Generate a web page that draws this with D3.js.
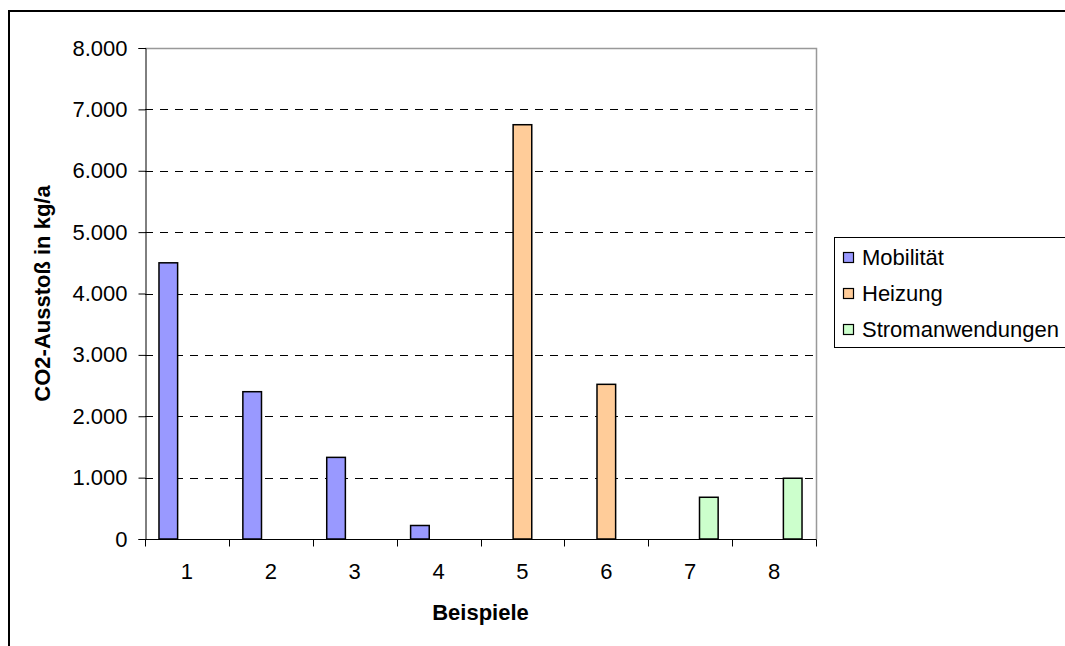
<!DOCTYPE html>
<html>
<head>
<meta charset="utf-8">
<script src="https://cdn.jsdelivr.net/npm/d3@7"></script>
<style>
  html, body { margin: 0; padding: 0; background: #fff; }
  svg { display: block; font-family: "Liberation Sans", Arial, sans-serif; }
</style>
</head>
<body>
<svg id="chart" width="1065" height="646"></svg>
<script>
// Beispiele (categories) and CO2 emissions per example, kg per year
const categories = ["1", "2", "3", "4", "5", "6", "7", "8"];
const seriesNames = ["Mobilität", "Heizung", "Stromanwendungen"];
const mobilitaet = [4500, 2400, 1330, 220, 0, 0, 0, 0];
const heizung = [0, 0, 0, 0, 6750, 2520, 0, 0];
const stromanwendungen = [0, 0, 0, 0, 0, 0, 680, 990];
const yTicks = [0, 1000, 2000, 3000, 4000, 5000, 6000, 7000, 8000];
const colors = ["#9999FF", "#FFCC99", "#CCFFCC"];

const seriesValues = [mobilitaet, heizung, stromanwendungen];

const svg = d3.select("#chart");
const plot = { left: 145, right: 816, top: 48, bottom: 539 };

// German number format: 8.000
const de = d3.formatLocale({ decimal: ",", thousands: ".", grouping: [3], currency: ["", " €"] });
const fmt = de.format(",");

const x0 = d3.scaleBand().domain(categories).range([plot.left, plot.right]).paddingInner(0).paddingOuter(0);
const x1 = d3.scaleBand().domain(seriesNames).range([0, x0.bandwidth()]).paddingInner(0).paddingOuter(0.75);
const y = d3.scaleLinear().domain([0, 8000]).range([plot.bottom, plot.top]);

// Outer chart frame
svg.append("rect")
  .attr("x", 9).attr("y", 11)
  .attr("width", 1065).attr("height", 646)
  .attr("fill", "none").attr("stroke", "#000").attr("stroke-width", 2);

// Dashed horizontal gridlines
svg.append("g")
  .selectAll("line")
  .data(yTicks.filter(v => v > 0 && v < 8000))
  .join("line")
  .attr("x1", plot.left).attr("x2", plot.right)
  .attr("y1", d => Math.round(y(d)) + 0.5).attr("y2", d => Math.round(y(d)) + 0.5)
  .attr("stroke", "#000").attr("stroke-width", 1)
  .attr("stroke-dasharray", "8,7");

// Plot area top and right border
svg.append("path")
  .attr("d", `M${plot.left},${plot.top + 0.5}H${plot.right + 0.5}V${plot.bottom}`)
  .attr("fill", "none").attr("stroke", "#999").attr("stroke-width", 1.5);

// Bars
const bars = [];
categories.forEach((c, i) => {
  seriesNames.forEach((s, j) => {
    const v = seriesValues[j][i];
    if (v > 0) bars.push({ c, s, v, j });
  });
});
svg.append("g")
  .selectAll("rect")
  .data(bars)
  .join("rect")
  .attr("x", d => x0(d.c) + x1(d.s))
  .attr("y", d => y(d.v))
  .attr("width", x1.bandwidth())
  .attr("height", d => y(0) - y(d.v))
  .attr("fill", d => colors[d.j])
  .attr("stroke", "#000").attr("stroke-width", 1.5);

// Y axis
const yAxis = d3.axisLeft(y).tickValues(yTicks).tickFormat(fmt).tickSize(7).tickPadding(11);
const gy = svg.append("g").attr("transform", `translate(${plot.left + 0.5},0)`).call(yAxis);
gy.select(".domain").attr("stroke", "#000");
gy.selectAll(".tick line").attr("stroke", "#000");
gy.selectAll("text").attr("font-size", 22).attr("fill", "#000")
  .attr("font-family", "Liberation Sans, Arial, sans-serif");

// X axis with ticks between categories
const gx = svg.append("g").attr("transform", `translate(0,${plot.bottom + 0.5})`);
gx.append("line")
  .attr("x1", plot.left).attr("x2", plot.right + 0.5)
  .attr("stroke", "#000");
gx.selectAll("line.tk")
  .data(categories.concat(["end"]))
  .join("line")
  .attr("class", "tk")
  .attr("x1", (d, i) => Math.round(plot.left + i * x0.step()) + 0.5)
  .attr("x2", (d, i) => Math.round(plot.left + i * x0.step()) + 0.5)
  .attr("y1", 0).attr("y2", 7)
  .attr("stroke", "#000");
gx.selectAll("text")
  .data(categories)
  .join("text")
  .attr("x", d => x0(d) + x0.bandwidth() / 2)
  .attr("y", 39)
  .attr("text-anchor", "middle")
  .attr("font-size", 22)
  .text(d => d);

// Axis titles
svg.append("text")
  .attr("x", (plot.left + plot.right) / 2)
  .attr("y", 620)
  .attr("text-anchor", "middle")
  .attr("font-size", 22).attr("font-weight", "bold")
  .text("Beispiele");

svg.append("text")
  .attr("transform", `translate(50,${(plot.top + plot.bottom) / 2}) rotate(-90)`)
  .attr("text-anchor", "middle")
  .attr("font-size", 22).attr("font-weight", "bold")
  .text("CO2-Ausstoß in kg/a");

// Legend
const legend = svg.append("g");
legend.append("rect")
  .attr("x", 834.5).attr("y", 237.5)
  .attr("width", 300).attr("height", 110)
  .attr("fill", "#fff").attr("stroke", "#000").attr("stroke-width", 1);
const items = legend.selectAll("g.item")
  .data(seriesNames)
  .join("g")
  .attr("class", "item")
  .attr("transform", (d, i) => `translate(0,${265 + i * 36})`);
items.append("rect")
  .attr("x", 843.5).attr("y", -12.5)
  .attr("width", 10).attr("height", 10)
  .attr("fill", (d, i) => colors[i])
  .attr("stroke", "#000").attr("stroke-width", 1.2);
items.append("text")
  .attr("x", 862).attr("y", 0)
  .attr("font-size", 22)
  .text(d => d);
</script>
</body>
</html>
